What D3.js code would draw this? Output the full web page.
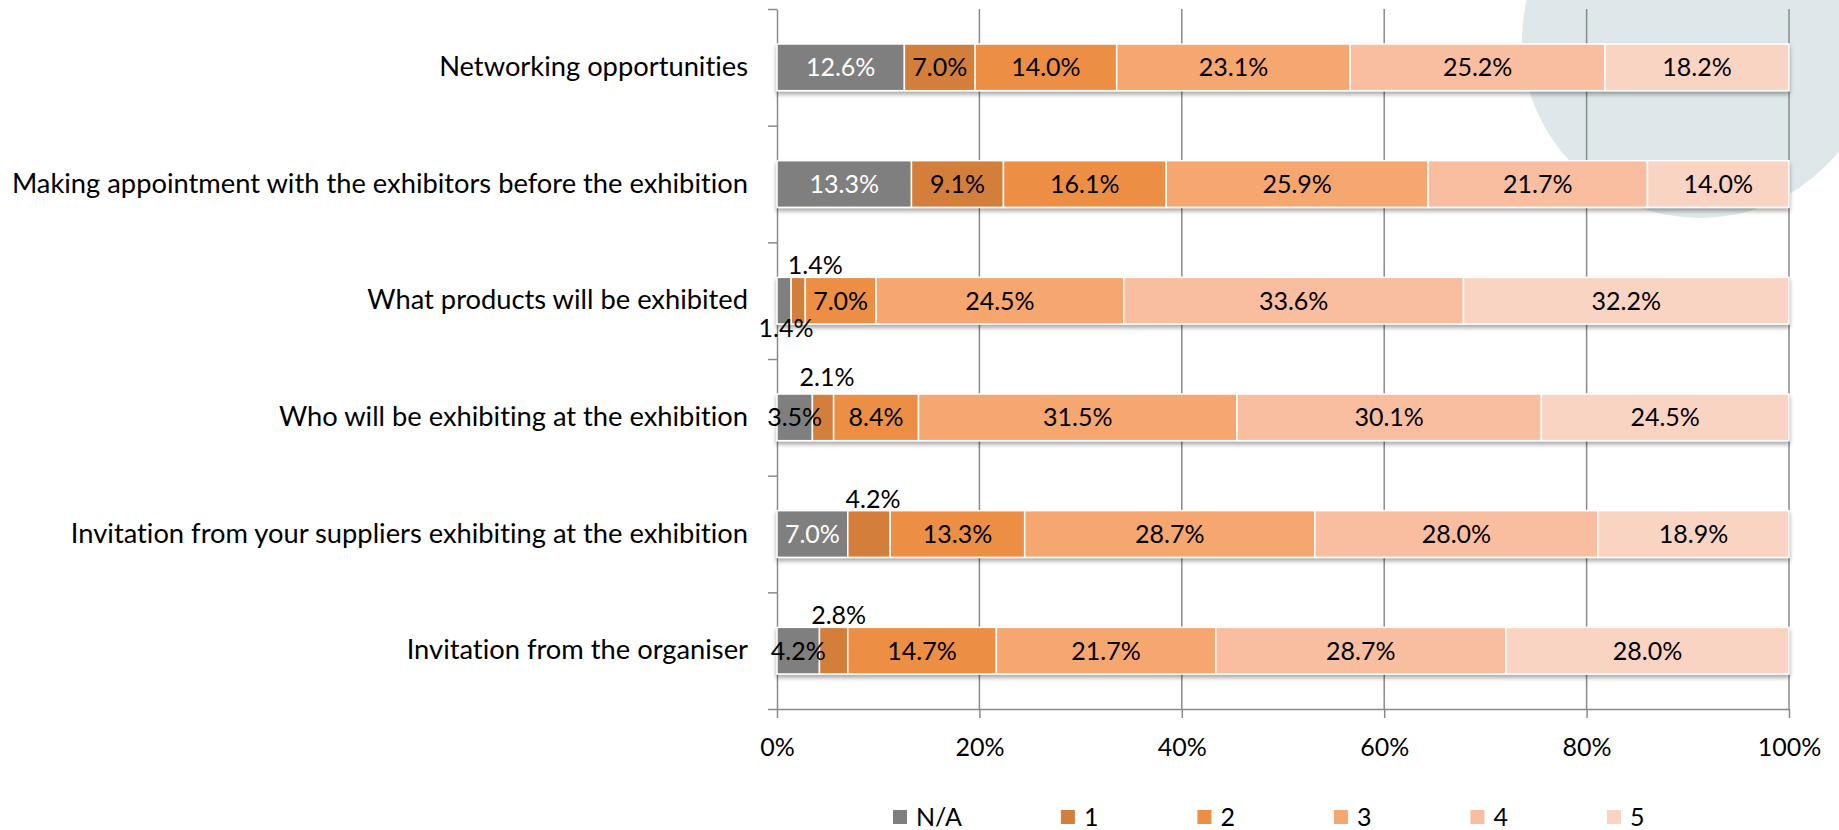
<!DOCTYPE html>
<html>
<head>
<meta charset="utf-8">
<script src="https://cdn.jsdelivr.net/npm/d3@7"></script>
<style>
  html, body { margin: 0; padding: 0; background: #fff; }
  svg { display: block; font-family: Lato, "Open Sans", sans-serif; }
  svg text { font-variant-ligatures: none; font-feature-settings: "liga" 0, "dlig" 0; }
</style>
</head>
<body>
<svg id="chart" width="1839" height="830"></svg>
<script>
// Survey rows, top to bottom
const categories = [
  "Networking opportunities",
  "Making appointment with the exhibitors before the exhibition",
  "What products will be exhibited",
  "Who will be exhibiting at the exhibition",
  "Invitation from your suppliers exhibiting at the exhibition",
  "Invitation from the organiser"
];

// Rating series (share of respondents, %)
const seriesNames = ["N/A", "1", "2", "3", "4", "5"];
const valuesNA = [12.6, 13.3, 1.4, 3.5, 7.0, 4.2];
const values1  = [7.0, 9.1, 1.4, 2.1, 4.2, 2.8];
const values2  = [14.0, 16.1, 7.0, 8.4, 13.3, 14.7];
const values3  = [23.1, 25.9, 24.5, 31.5, 28.7, 21.7];
const values4  = [25.2, 21.7, 33.6, 30.1, 28.0, 28.7];
const values5  = [18.2, 14.0, 32.2, 24.5, 18.9, 28.0];
const seriesValues = [valuesNA, values1, values2, values3, values4, values5];

const seriesColors = ["#7f7f7f", "#d37e3a", "#ec8f44", "#f6a76f", "#f8be9f", "#fad4c3"];

// Axis tick labels
const xTicks = [0, 0.2, 0.4, 0.6, 0.8, 1.0];
const xTickLabels = ["0%", "20%", "40%", "60%", "80%", "100%"];

// Labels of thin segments that sit outside their bar
const labelPlacement = [
  { row: 2, series: 0, pos: "below", dx: 2, dy: 4 },
  { row: 2, series: 1, pos: "above", dx: 17, dy: -12 },
  { row: 3, series: 1, pos: "above", dx: 4, dy: -17 },
  { row: 4, series: 1, pos: "above", dx: 4, dy: -12 },
  { row: 5, series: 1, pos: "above", dx: 5, dy: -12 }
];

const svg = d3.select("#chart");
const fontSize = 25;
const categoryFontSize = 27.3;

// Decorative backdrop disc
svg.append("circle")
  .attr("cx", 1700).attr("cy", 40).attr("r", 178)
  .attr("fill", "#dee8ea");

const defs = svg.append("defs");
const shadow = defs.append("filter").attr("id", "barShadow")
  .attr("x", "-5%").attr("y", "-30%").attr("width", "110%").attr("height", "170%");
shadow.append("feDropShadow")
  .attr("dx", 0).attr("dy", 3).attr("stdDeviation", 2.2)
  .attr("flood-color", "#000").attr("flood-opacity", 0.35);

const plot = { left: 777, right: 1789, top: 9, bottom: 709 };

const x = d3.scaleLinear().domain([0, 1]).range([plot.left, plot.right]);
const y = d3.scaleBand().domain(categories)
  .range([plot.top, plot.bottom])
  .paddingInner(0.6).paddingOuter(0.3);

// Rows as records for stacking, normalised to 100%
const rows = categories.map((c, i) => {
  const r = { category: c };
  seriesNames.forEach((s, k) => { r[s] = seriesValues[k][i]; });
  return r;
});
const stack = d3.stack().keys(seriesNames).offset(d3.stackOffsetExpand);
const stacked = stack(rows);

const gridColor = "#8a8a8a";

// Vertical gridlines
svg.append("g").selectAll("line")
  .data(xTicks.slice(1))
  .join("line")
  .attr("x1", d => x(d)).attr("x2", d => x(d))
  .attr("y1", plot.top).attr("y2", plot.bottom)
  .attr("stroke", gridColor).attr("stroke-width", 1.5);

// X axis
const xAxis = d3.axisBottom(x)
  .tickValues(xTicks)
  .tickFormat((d, i) => xTickLabels[i])
  .tickSizeInner(9).tickSizeOuter(0).tickPadding(20);
const gx = svg.append("g")
  .attr("transform", `translate(0,${plot.bottom})`)
  .call(xAxis);
gx.select(".domain").attr("stroke", gridColor).attr("stroke-width", 1.5);
gx.selectAll(".tick line").attr("stroke", gridColor).attr("stroke-width", 1.5);
gx.selectAll(".tick text")
  .attr("font-family", "Lato, sans-serif")
  .attr("font-size", fontSize).attr("fill", "#000");

// Y axis: category labels and boundary ticks
const step = y.step();
const boundaries = d3.range(categories.length + 1).map(i => plot.top + i * step);
const yBound = d3.scaleLinear().domain([plot.top, plot.bottom]).range([plot.top, plot.bottom]);
const gyTicks = svg.append("g")
  .attr("transform", `translate(${plot.left},0)`)
  .call(d3.axisLeft(yBound).tickValues(boundaries).tickFormat("").tickSizeInner(9).tickSizeOuter(0));
gyTicks.select(".domain").attr("stroke", gridColor).attr("stroke-width", 1.5);
gyTicks.selectAll(".tick line").attr("stroke", gridColor).attr("stroke-width", 1.5);

const gyLabels = svg.append("g")
  .attr("transform", `translate(${plot.left},0)`)
  .call(d3.axisLeft(y).tickSize(0).tickPadding(29));
gyLabels.select(".domain").remove();
gyLabels.selectAll(".tick text")
  .attr("font-family", "Lato, sans-serif")
  .attr("font-size", categoryFontSize).attr("fill", "#000");

// Stacked bars
const barsG = svg.append("g").attr("filter", "url(#barShadow)");
barsG.selectAll("g")
  .data(stacked)
  .join("g")
  .attr("fill", (d, k) => seriesColors[k])
  .selectAll("rect")
  .data(d => d)
  .join("rect")
  .attr("x", d => x(d[0]))
  .attr("y", d => y(d.data.category))
  .attr("width", d => x(d[1]) - x(d[0]))
  .attr("height", y.bandwidth())
  .attr("stroke", "#fff").attr("stroke-width", 1.5);

// Data labels
const labelsG = svg.append("g")
  .attr("font-family", "Lato, sans-serif")
  .attr("font-size", fontSize)
  .attr("text-anchor", "middle");

stacked.forEach((layer, k) => {
  layer.forEach((seg, i) => {
    const v = seriesValues[k][i];
    const txt = v.toFixed(1) + "%";
    const x0 = x(seg[0]), x1 = x(seg[1]);
    const top = y(seg.data.category);
    const place = labelPlacement.find(p => p.row === i && p.series === k);
    let cx = (x0 + x1) / 2;
    let cy = top + y.bandwidth() / 2;
    if (place) {
      cx += place.dx;
      cy = place.pos === "above" ? top + place.dy : top + y.bandwidth() + place.dy;
    }
    const t = labelsG.append("text")
      .attr("x", cx).attr("y", cy)
      .attr("dy", "0.36em")
      .text(txt);
    const w = t.node().getComputedTextLength();
    const fits = !place && (x1 - x0) > w + 4;
    t.attr("fill", (k === 0 && fits) ? "#fff" : "#000");
  });
});

// Legend
const legend = svg.append("g").attr("transform", "translate(893,810)");
let lx = 0;
seriesNames.forEach((s, k) => {
  const item = legend.append("g").attr("transform", `translate(${lx},0)`);
  item.append("rect").attr("width", 14).attr("height", 14).attr("fill", seriesColors[k]);
  const t = item.append("text")
    .attr("x", 23).attr("y", 7).attr("dy", "0.36em")
    .attr("font-family", "Lato, sans-serif")
    .attr("font-size", fontSize).attr("fill", "#000")
    .text(s);
  lx += 23 + t.node().getComputedTextLength() + 99;
});
</script>
</body>
</html>
